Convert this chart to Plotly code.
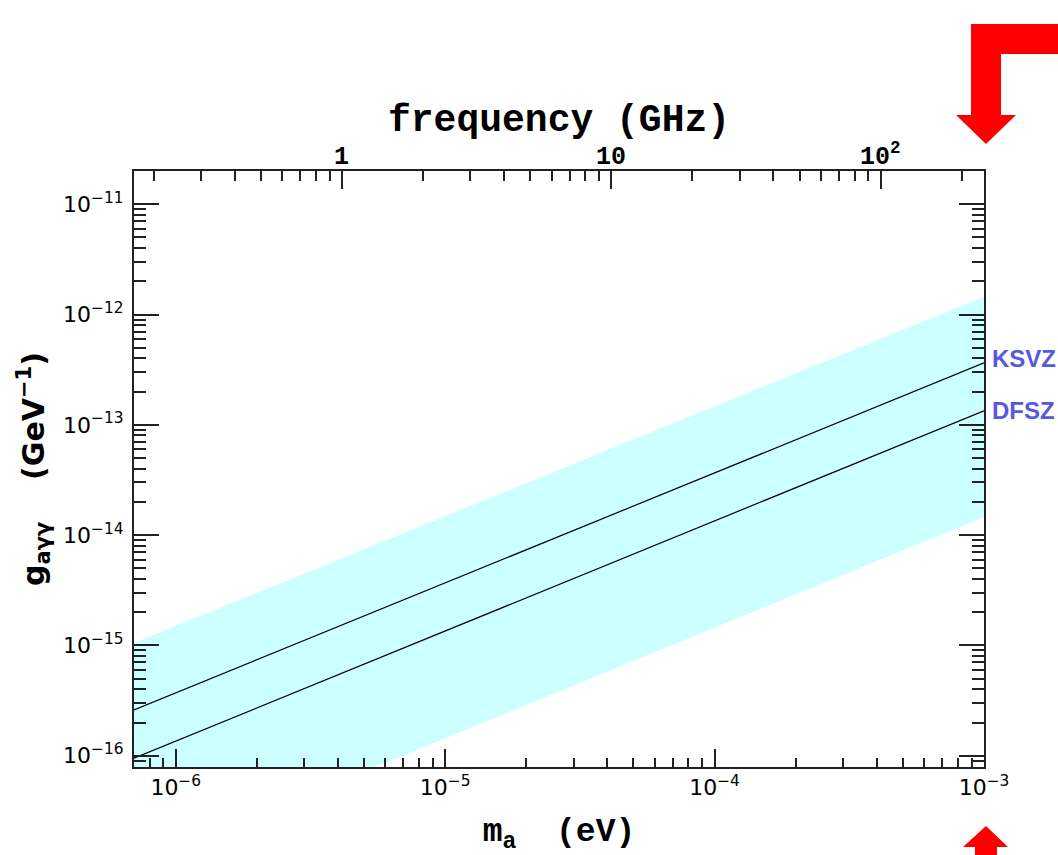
import math
import plotly.graph_objects as go

# ---- data ----
mass_ev = [7.0e-7, 1.0e-3]                 # axion mass endpoints (eV)
ksvz = [2.6e-16, 3.64e-13]                 # KSVZ line g (GeV^-1)
dfsz = [9.5e-17, 1.34e-13]                 # DFSZ line g (GeV^-1)
band_upper = [1.05e-15, 1.45e-12]          # band upper edge
band_lower = [1.0e-17, 1.46e-14]           # band lower edge
y_range_vals = [7.9e-17, 2.0e-11]
y_ticks = [1e-16, 1e-15, 1e-14, 1e-13, 1e-12, 1e-11]
y_ticktext = ["10<sup>\u221216</sup>", "10<sup>\u221215</sup>", "10<sup>\u221214</sup>",
              "10<sup>\u221213</sup>", "10<sup>\u221212</sup>", "10<sup>\u221211</sup>"]
x_ticks = [1e-6, 1e-5, 1e-4, 1e-3]
x_ticktext = ["10<sup>\u22126</sup>", "10<sup>\u22125</sup>", "10<sup>\u22124</sup>", "10<sup>\u22123</sup>"]
f_ticks = [1, 10, 100]
f_ticktext = ["1", "10", "10<sup>2</sup>"]
GHZ_PER_EV = 2.418e5

W, H = 1058, 855
L, R, T, B = 134, 984, 171, 767

BAND = "#CCFFFF"
LABEL_BLUE = "#5858DD"
AX = "#222222"
SANS = "DejaVu Sans"
MONO = "Liberation Mono"

fig = go.Figure()
fig.add_trace(go.Scatter(x=mass_ev, y=band_lower, mode="lines", line=dict(width=0, color=BAND),
                         showlegend=False, hoverinfo="skip"))
fig.add_trace(go.Scatter(x=mass_ev, y=band_upper, mode="lines", line=dict(width=0, color=BAND),
                         fill="tonexty", fillcolor=BAND, showlegend=False, hoverinfo="skip"))
fig.add_trace(go.Scatter(x=mass_ev, y=ksvz, mode="lines", line=dict(width=1.2, color="black"),
                         showlegend=False))
fig.add_trace(go.Scatter(x=mass_ev, y=dfsz, mode="lines", line=dict(width=1.2, color="black"),
                         showlegend=False))
# invisible traces to activate the top (frequency) axis and right mirror axis
fig.add_trace(go.Scatter(x=[mass_ev[0] * GHZ_PER_EV, mass_ev[1] * GHZ_PER_EV], y=ksvz,
                         xaxis="x2", mode="lines", line=dict(width=0), opacity=0,
                         showlegend=False, hoverinfo="skip"))
fig.add_trace(go.Scatter(x=mass_ev, y=ksvz, yaxis="y2", mode="lines", line=dict(width=0), opacity=0,
                         showlegend=False, hoverinfo="skip"))

xr = [math.log10(mass_ev[0]), math.log10(mass_ev[1])]
fr = [xr[0] + math.log10(GHZ_PER_EV), xr[1] + math.log10(GHZ_PER_EV)]
yr = [math.log10(y_range_vals[0]), math.log10(y_range_vals[1])]

minor_y = dict(ticks="inside", ticklen=12, tickwidth=1.5, tickcolor=AX, dtick="D1", showgrid=False)
minor_x = dict(ticks="inside", ticklen=9, tickwidth=1.5, tickcolor=AX, dtick="D1", showgrid=False)

fig.update_layout(
    width=W, height=H,
    margin=dict(l=L, r=W - R, t=T, b=H - B, autoexpand=False),
    paper_bgcolor="white", plot_bgcolor="white",
    xaxis=dict(type="log", range=xr, showgrid=False, zeroline=False,
               showline=True, linecolor=AX, linewidth=2,
               ticks="inside", ticklen=18, tickwidth=1.5, tickcolor=AX,
               tickvals=x_ticks, ticktext=x_ticktext,
               tickfont=dict(family=SANS, size=22, color="black"),
               minor=minor_x,
               title=dict(text="m<sub>a</sub>  (eV)", font=dict(family=MONO, size=33, color="black", weight="bold"),
                          standoff=22)),
    xaxis2=dict(type="log", range=fr, overlaying="x", side="top", anchor="y",
                showgrid=False, zeroline=False,
                showline=True, linecolor=AX, linewidth=2,
                ticks="inside", ticklen=18, tickwidth=1.5, tickcolor=AX,
                tickvals=f_ticks, showticklabels=False,
                minor=dict(ticks="inside", ticklen=10, tickwidth=1.5, tickcolor=AX, dtick="D1", showgrid=False)),
    yaxis=dict(type="log", range=yr, showgrid=False, zeroline=False,
               showline=True, linecolor=AX, linewidth=2,
               ticks="inside", ticklen=25, tickwidth=1.5, tickcolor=AX,
               tickvals=y_ticks, ticktext=y_ticktext,
               tickfont=dict(family=SANS, size=22, color="black"),
               ticklabelstandoff=4,
               minor=minor_y,
               title=dict(text="g<sub>a\u03b3\u03b3</sub>    (GeV<sup>\u22121</sup>)",
                          font=dict(family=SANS, size=30, color="black", weight="bold"),
                          standoff=10)),
    yaxis2=dict(type="log", range=yr, overlaying="y", side="right", anchor="x",
                showgrid=False, zeroline=False,
                showline=True, linecolor=AX, linewidth=2,
                ticks="inside", ticklen=25, tickwidth=1.5, tickcolor=AX,
                tickvals=y_ticks, showticklabels=False,
                minor=minor_y),
    showlegend=False,
)

# top frequency tick labels and title
for fv, ft in zip(f_ticks, f_ticktext):
    fig.add_annotation(x=math.log10(fv), y=1, xref="x2", yref="paper", text=ft, showarrow=False,
                       xanchor="center", yanchor="bottom", yshift=-3,
                       font=dict(family=MONO, size=25, color="black", weight="bold"))
fig.add_annotation(x=0.5, y=(B - 120) / (B - T), xref="paper", yref="paper", text="frequency (GHz)",
                   showarrow=False, xanchor="center", yanchor="middle",
                   font=dict(family=MONO, size=38, color="black", weight="bold"))

# line labels at the right edge
fig.add_annotation(x=math.log10(mass_ev[1]), y=math.log10(ksvz[1]), xref="x", yref="y",
                   text="<b>KSVZ</b>", showarrow=False, xanchor="left", yanchor="middle", xshift=6, yshift=4,
                   font=dict(family="Liberation Sans", size=24, color=LABEL_BLUE))
fig.add_annotation(x=math.log10(mass_ev[1]), y=math.log10(dfsz[1]), xref="x", yref="y",
                   text="<b>DFSZ</b>", showarrow=False, xanchor="left", yanchor="middle", xshift=6, yshift=0,
                   font=dict(family="Liberation Sans", size=24, color=LABEL_BLUE))


def to_paper(pts):
    return [((px - L) / (R - L), (B - py) / (B - T)) for px, py in pts]


def path_from(pts):
    pp = to_paper(pts)
    s = "M %.5f %.5f " % pp[0]
    for p in pp[1:]:
        s += "L %.5f %.5f " % p
    return s + "Z"


top_arrow = [(1062, 24), (971, 24), (971, 115), (956, 115), (986, 144), (1016, 115),
             (1001, 115), (1001, 54), (1062, 54)]
bottom_arrow = [(986, 826), (1008, 847), (997, 847), (997, 860), (975, 860), (975, 847), (963, 847)]
for arr in (top_arrow, bottom_arrow):
    fig.add_shape(type="path", path=path_from(arr), xref="paper", yref="paper",
                  fillcolor="#FF0000", line=dict(width=0), layer="above")

fig.write_html("out.html")
